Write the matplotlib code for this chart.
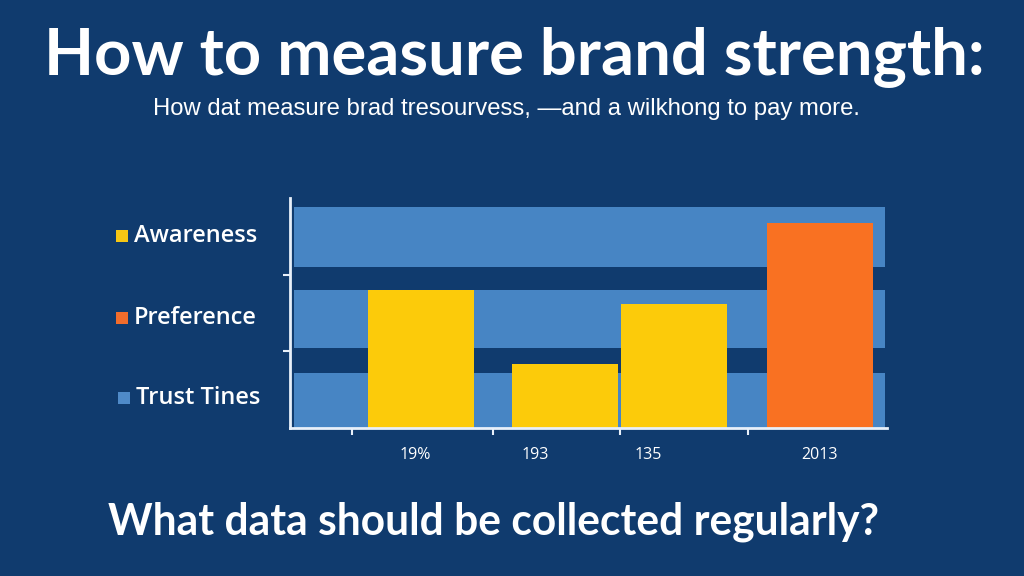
import matplotlib
matplotlib.use("Agg")
import matplotlib.pyplot as plt
from matplotlib.patches import Rectangle

# ---- data ----
categories = ["19%", "193", "135", "2013"]
values = [60, 28, 54, 89]
bar_colors = ["#fccb0a", "#fccb0a", "#fccb0a", "#f97122"]
legend_labels = ["Awareness", "Preference", "Trust Tines"]
legend_colors = ["#f6c614", "#f26d2c", "#4f8ac8"]
band_ranges = [(0, 24), (35, 60), (70, 96)]
title = "How to measure brand strength:"
subtitle = "How dat measure brad tresourvess, \u2014and a wilkhong to pay more."
bottom_q = "What data should be collected regularly?"

# ---- layout ----
W, H = 1024, 576
BG = "#103b6e"
BAND = "#4785c4"
bar_left = [0.736, 2.094, 3.123, 4.5]
label_pos = [1.18, 2.31, 3.38, 5.0]
tick_pos = [0.585, 1.915, 3.113, 4.321]

fig = plt.figure(figsize=(W / 100, H / 100), dpi=100, facecolor=BG)
ax = fig.add_axes([290 / W, (H - 428) / H, 597 / W, 230 / H])
ax.set_facecolor(BG)
ax.set_xlim(0, 597 / 106)
ax.set_ylim(0, 100)

for lo, hi in band_ranges:
    ax.axhspan(lo, hi, xmin=0.007, xmax=0.9966, color=BAND, lw=0, zorder=1)

ax.bar(bar_left, values, width=1.0, align="edge", color=bar_colors, lw=0, zorder=2)

for s in ["top", "right"]:
    ax.spines[s].set_visible(False)
for s in ["left", "bottom"]:
    ax.spines[s].set_color("#e8f0fa")
    ax.spines[s].set_linewidth(2)
    ax.spines[s].set_zorder(3)

ax.set_xticks(label_pos)
ax.set_xticklabels(categories, color="white", fontsize=11.5, family="Open Sans")
ax.tick_params(axis="x", which="major", length=0, pad=14)
ax.set_xticks(tick_pos, minor=True)
ax.tick_params(axis="x", which="minor", length=5, width=1.5, color="#e8f0fa", direction="out")
ax.set_yticks([100 / 3, 200 / 3])
ax.set_yticklabels([])
ax.tick_params(axis="y", length=5, width=1.5, color="#e8f0fa", direction="out")


def fit_text(x, y, s, width_px, **kw):
    t = fig.text(x / W, 1 - y / H, s, ha="center", va="center", color="white", **kw)
    r = fig.canvas.get_renderer()
    bb = t.get_window_extent(renderer=r)
    t.set_fontsize(t.get_fontsize() * width_px / bb.width)
    return t


fit_text(514, 58, title, 940, fontsize=40, family="Lato", fontweight="bold")
fit_text(506, 109, subtitle, 708, fontsize=16, family="Liberation Sans")
fit_text(494, 522, bottom_q, 772, fontsize=26, family="Lato", fontweight="bold")

# legend-like labels
leg_y = [236, 318, 398]
leg_sq_x = [116, 116, 118]
for lab, col, y, sx in zip(legend_labels, legend_colors, leg_y, leg_sq_x):
    fig.patches.append(Rectangle((sx / W, 1 - (y + 6) / H), 12 / W, 12 / H,
                                 transform=fig.transFigure, color=col, lw=0))
    fig.text((sx + 18) / W, 1 - y / H, lab, ha="left", va="center", color="white",
             fontsize=17, family="Open Sans", fontweight="semibold")

fig.savefig("out.png", dpi=100, facecolor=BG)
